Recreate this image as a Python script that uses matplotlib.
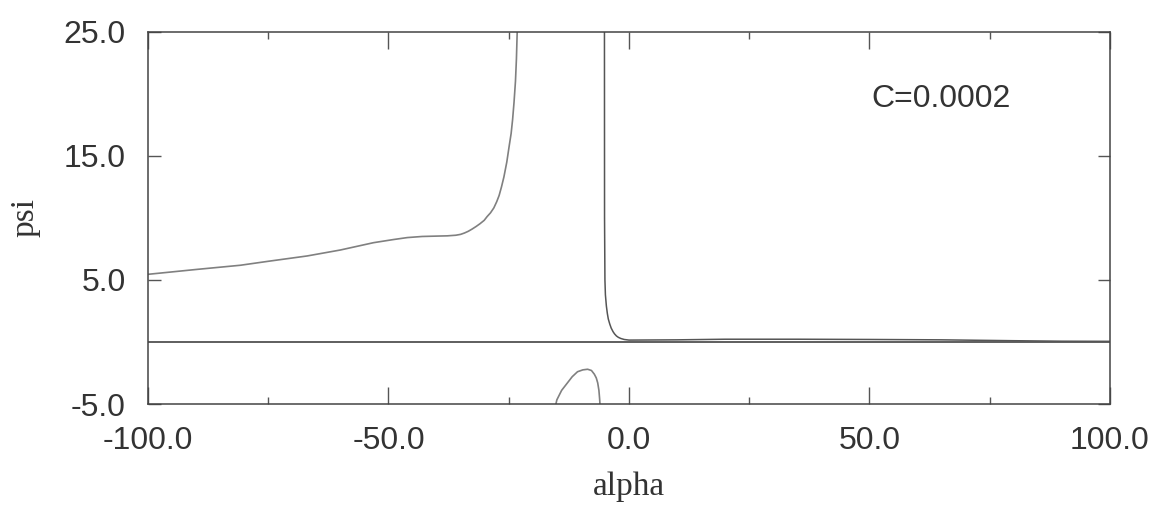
import numpy as np
import matplotlib
matplotlib.use("Agg")
import matplotlib.pyplot as plt
from matplotlib.ticker import MultipleLocator

# left branch (gray), blows up near alpha=-23
left_alpha = [-100, -90, -80.8, -75, -66.9, -60, -53.1, -49, -46.1, -43, -40, -37.8, -36, -35, -34.2,
              -33.4, -32.6, -31.8, -31.0, -30.1, -29.5, -28.8, -28.1, -27.5, -27.0, -26.5, -26.0,
              -25.4, -24.9, -24.5, -24.2, -23.9, -23.6, -23.4, -23.2]
left_psi = [5.45, 5.84, 6.18, 6.5, 6.93, 7.41, 8.0, 8.25, 8.41, 8.5, 8.53, 8.55, 8.6, 8.67, 8.78,
            8.92, 9.1, 9.3, 9.52, 9.8, 10.1, 10.4, 10.8, 11.3, 11.8, 12.5, 13.3,
            14.5, 15.8, 16.8, 17.9, 19.3, 21.0, 22.8, 25.5]

# right branch (dark), drops from top near alpha=-5 and flattens near zero
right_alpha = [-5.1, -5.08, -5.0, -4.9, -4.7, -4.5, -4.3, -4.0, -3.7, -3.3, -3.0, -2.6, -2.2, -1.7,
               -1.0, 0, 10, 20, 35, 50, 65, 80, 90, 100]
right_psi = [25.5, 10.0, 5.0, 3.8, 2.9, 2.3, 1.85, 1.45, 1.12, 0.82, 0.65, 0.48, 0.37, 0.28,
             0.2, 0.15, 0.17, 0.22, 0.22, 0.2, 0.17, 0.1, 0.06, 0.05]

# small arch below zero
bump_alpha = [-15.3, -15.0, -14.0, -12.8, -11.8, -10.7, -9.6, -8.6, -7.8, -7.2, -6.8, -6.5, -6.25, -6.1, -6.0]
bump_psi = [-5.2, -4.67, -3.9, -3.3, -2.8, -2.4, -2.25, -2.2, -2.3, -2.6, -2.9, -3.3, -3.9, -4.6, -5.2]

yticks = [-5.0, 5.0, 15.0, 25.0]
xticks = [-100.0, -50.0, 0.0, 50.0, 100.0]

fig = plt.figure(figsize=(11.56, 5.05), dpi=100)
ax = fig.add_axes([0.128, 0.2, 0.9602 - 0.128, 0.9372 - 0.2])

ax.axhline(0, color="#333333", lw=1.1)
ax.plot(left_alpha, left_psi, color="#808080", lw=1.2)
ax.plot(right_alpha, right_psi, color="#555555", lw=1.1)
ax.plot(bump_alpha, bump_psi, color="#808080", lw=1.2)

ax.set_xlim(-100, 100)
ax.set_ylim(-5, 25)
ax.set_xticks(xticks)
ax.set_yticks(yticks)
ax.set_xticklabels(["%.1f" % v for v in xticks])
ax.set_yticklabels(["%.1f" % v for v in yticks])
ax.xaxis.set_minor_locator(MultipleLocator(25))

ax.tick_params(axis="both", which="both", direction="in", top=True, right=True,
               colors="#555555", labelcolor="#333333", width=1)
ax.tick_params(axis="x", which="major", length=12, pad=16, labelsize=23)
ax.tick_params(axis="x", which="minor", length=5)
ax.tick_params(axis="y", which="major", length=9, pad=16, labelsize=23)
for lab in ax.get_xticklabels() + ax.get_yticklabels():
    lab.set_family("Liberation Sans")

for s in ax.spines.values():
    s.set_color("#444444")
    s.set_linewidth(1.1)

ax.set_xlabel("alpha", family="Liberation Serif", fontsize=24, color="#333333")
ax.set_ylabel("psi", family="Liberation Serif", fontsize=24, color="#333333")
ax.xaxis.label.set_va("center")
ax.yaxis.label.set_va("center")
ax.xaxis.set_label_coords(0.5, -0.223)
ax.yaxis.set_label_coords(-0.128, 0.5)

ax.text(50.4, 18.9, "C=0.0002", family="Liberation Sans", fontsize=23,
        color="#333333", ha="left", va="baseline")

fig.savefig("out.png", dpi=100, facecolor="white")
